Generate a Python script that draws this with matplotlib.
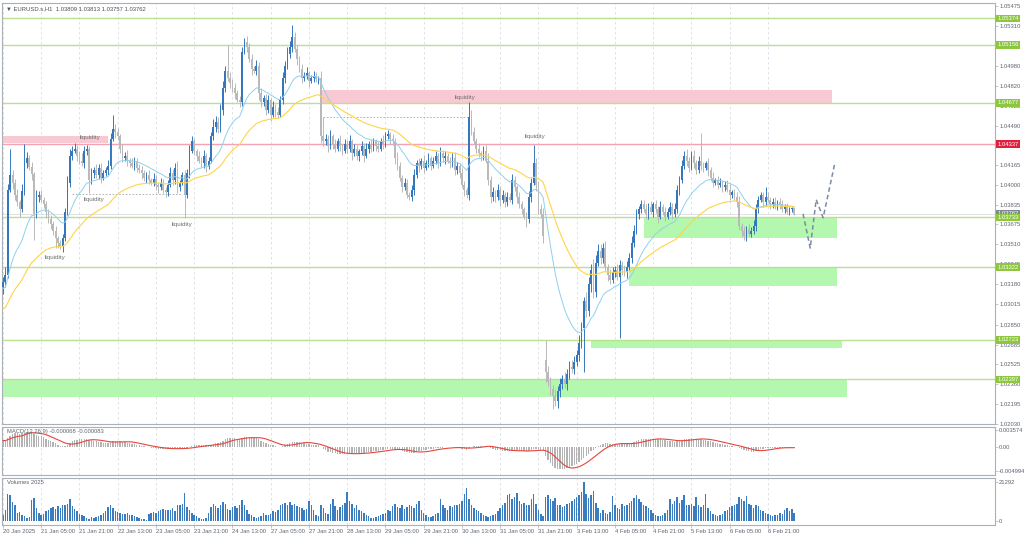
"""
EURUSD H1 chart (MT4 look) -- candles, MAs, MACD and volumes
with marked liquidity levels and supply / demand zones.
Output: out.png (1024x537)
"""

import numpy as np
import pandas as pd
import matplotlib
matplotlib.use("Agg")
import matplotlib.pyplot as plt
import matplotlib.transforms as mtransforms

# ─────────────────────────────────────────────
# Data (prices in pips above 1.0000)
# ─────────────────────────────────────────────
FIRST_OPEN = 316
GAP_OPENS = {227: 256}          # Monday 3 Feb opened with a gap

CLOSE_PIPS = [
    320, 326, 396, 408, 402, 392, 386, 380, 395, 418,
    422, 415, 409, 376, 390, 392, 388, 384, 378, 372,
    368, 362, 356, 352, 350, 356, 378, 402, 424, 428,
    430, 424, 420, 418, 428, 430, 404, 410, 412, 408,
    414, 406, 410, 412, 416, 438, 446, 444, 440, 430,
    422, 424, 420, 418, 416, 420, 414, 412, 410, 406,
    408, 404, 402, 405, 400, 398, 402, 396, 394, 400,
    410, 404, 414, 398, 402, 408, 392, 410, 428, 436,
    428, 424, 420, 418, 424, 416, 420, 440, 448, 452,
    446, 462, 480, 494, 488, 484, 480, 476, 470, 468,
    510, 518, 514, 504, 496, 494, 498, 476, 468, 472,
    462, 470, 458, 464, 460, 458, 470, 488, 498, 508,
    514, 522, 512, 504, 496, 488, 490, 492, 486, 488,
    490, 487, 488, 440, 436, 438, 432, 440, 434, 430,
    436, 432, 428, 434, 430, 436, 426, 430, 424, 428,
    432, 424, 430, 434, 430, 436, 432, 430, 436, 434,
    440, 442, 438, 436, 422, 416, 406, 398, 402, 392,
    390, 396, 408, 418, 416, 420, 414, 418, 422, 416,
    420, 424, 418, 426, 422, 424, 420, 418, 422, 412,
    416, 410, 400, 396, 392, 456, 444, 436, 430, 426,
    424, 428, 420, 404, 390, 394, 390, 396, 388, 392,
    386, 390, 388, 404, 398, 390, 384, 380, 374, 372,
    390, 402, 418, 400, 380, 376, 358,
    246, 238, 232, 226, 222, 230, 236, 240, 236, 244, 250, 248,
    254, 260, 270, 282, 304, 296, 318, 330, 312, 336,
    346, 340, 348, 332, 326, 322, 328, 330, 324, 334,
    330, 328, 332, 340, 352, 362, 376, 380, 384, 380,
    376, 382, 378, 384, 380, 374, 382, 378, 374, 378,
    382, 376, 380, 396, 404, 416, 424, 420, 414, 424,
    418, 412, 420, 416, 414, 418, 412, 406, 402, 404,
    400, 402, 398, 400, 396, 392, 394, 390, 386, 366,
    362, 358, 364, 360, 362, 366, 380, 388, 392, 386,
    390, 388, 384, 386, 382, 386, 384, 380, 382, 378, 380, 381, 376,
]

UP_WICK = [
    4, 6, 5, 22, 4, 3, 5, 2, 6, 16,
    5, 3, 4, 2, 6, 3, 4, 2, 3, 2,
    3, 2, 4, 2, 3, 4, 3, 5, 6, 4,
    5, 3, 4, 6, 4, 3, 2, 4, 3, 5,
    3, 4, 2, 3, 5, 5, 12, 4, 3, 2,
    4, 3, 5, 2, 4, 3, 2, 3, 4, 2,
    3, 4, 2, 5, 3, 2, 4, 3, 2, 4,
    5, 3, 4, 6, 2, 3, 4, 3, 5, 4,
    3, 2, 4, 3, 5, 2, 3, 4, 6, 5,
    4, 5, 6, 4, 21, 5, 3, 4, 2, 3,
    4, 3, 5, 3, 4, 2, 5, 3, 4, 2,
    3, 4, 2, 5, 3, 4, 3, 5, 4, 6,
    5, 10, 4, 3, 2, 4, 3, 5, 2, 3,
    4, 3, 2, 6, 16, 4, 3, 5, 2, 4,
    3, 5, 2, 4, 3, 5, 2, 4, 3, 2,
    4, 3, 5, 2, 4, 3, 2, 4, 3, 5,
    4, 3, 2, 4, 3, 5, 3, 2, 4, 3,
    2, 4, 5, 3, 4, 2, 5, 3, 4, 2,
    3, 4, 2, 5, 3, 4, 2, 3, 4, 5,
    3, 2, 4, 3, 2, 12, 6, 4, 3, 5,
    2, 4, 5, 6, 3, 4, 2, 5, 3, 4,
    2, 4, 3, 5, 3, 2, 4, 3, 2, 4,
    5, 4, 15, 4, 3, 4, 5,
    16, 5, 4, 3, 6, 4, 5, 3, 6, 4, 5, 6,
    5, 4, 6, 5, 4, 8, 6, 5, 9, 6,
    5, 5, 4, 6, 3, 5, 4, 3, 5, 4,
    3, 4, 5, 4, 6, 5, 4, 3, 4, 4,
    4, 3, 5, 2, 4, 3, 5, 2, 4, 3,
    4, 3, 5, 4, 3, 5, 4, 6, 3, 4,
    5, 3, 4, 23, 3, 2, 4, 3, 5, 2,
    3, 4, 2, 3, 4, 5, 2, 3, 4, 5,
    3, 4, 2, 4, 3, 5, 4, 3, 2, 2,
    8, 4, 2, 3, 4, 2, 3, 4, 2, 3, 2, 1, 0,
]

DN_WICK = [
    6, 4, 3, 2, 5, 4, 3, 6, 2, 3,
    4, 3, 5, 21, 3, 4, 2, 3, 5, 3,
    4, 3, 8, 4, 3, 5, 2, 3, 4, 3,
    2, 4, 3, 2, 4, 3, 11, 3, 4, 2,
    3, 4, 2, 3, 4, 3, 2, 5, 3, 4,
    3, 2, 4, 3, 2, 4, 3, 2, 5, 3,
    4, 3, 2, 3, 4, 5, 2, 3, 4, 3,
    2, 4, 3, 5, 3, 2, 19, 3, 4, 2,
    3, 4, 2, 3, 4, 5, 3, 2, 3, 4,
    3, 2, 4, 3, 2, 4, 3, 5, 2, 4,
    3, 2, 4, 3, 5, 2, 3, 6, 4, 3,
    4, 3, 5, 2, 4, 3, 2, 3, 4, 2,
    3, 4, 2, 5, 3, 4, 2, 3, 5, 2,
    3, 2, 4, 5, 4, 3, 5, 2, 4, 3,
    2, 4, 3, 2, 4, 3, 5, 2, 3, 4,
    3, 5, 2, 4, 3, 2, 4, 3, 2, 4,
    3, 2, 4, 3, 5, 4, 3, 4, 2, 3,
    2, 3, 4, 2, 5, 3, 4, 2, 3, 4,
    2, 3, 4, 2, 3, 5, 2, 4, 3, 4,
    3, 4, 2, 5, 3, 4, 3, 2, 4, 3,
    4, 3, 2, 4, 5, 3, 4, 2, 5, 3,
    4, 3, 2, 4, 3, 5, 3, 4, 2, 7,
    3, 4, 2, 5, 4, 3, 6,
    8, 4, 5, 11, 4, 6, 5, 4, 3, 5, 4, 3,
    4, 3, 5, 4, 36, 5, 4, 6, 5, 4,
    3, 5, 4, 3, 5, 4, 3, 4, 2, 50,
    4, 3, 5, 2, 4, 3, 2, 4, 3, 2,
    3, 4, 2, 4, 3, 5, 2, 3, 4, 2,
    3, 4, 2, 3, 4, 2, 3, 4, 3, 2,
    4, 3, 2, 4, 3, 2, 5, 3, 4, 2,
    3, 2, 4, 3, 2, 4, 3, 2, 4, 3,
    5, 3, 4, 2, 3, 2, 4, 3, 2, 4,
    3, 2, 4, 3, 2, 3, 4, 2, 3, 2, 3, 2, 1,
]

VOLUMES = [
    # 20 Jan (13:00-23:00)
    3500, 6000, 15000, 14000, 10500, 9000, 4500, 5000, 3000, 2500, 1500,
    # 21 Jan
    2000, 11500, 12500, 7000, 4500, 3500, 4000, 5500, 6000, 7000, 7500, 6500,
    8000, 7000, 8500, 9000, 9500, 12000, 8000, 6500, 5500, 4000, 3000, 2500,
    # 22 Jan
    1500, 1000, 2000, 1800, 2200, 2500, 3000, 4500, 5500, 7500, 9000, 7000,
    5500, 5000, 4500, 4000, 3800, 4200, 3500, 3000, 2800, 2200, 1800, 1200,
    # 23 Jan
    1000, 500, 4000, 4500, 5000, 4200, 5500, 6000, 6500, 5800, 6200, 6000,
    7000, 5500, 8500, 9000, 9500, 15500, 7500, 6000, 4500, 3500, 2500, 1800,
    # 24 Jan
    1200, 1000, 1500, 4500, 7500, 9500, 8000, 7000, 8500, 10500, 9500, 6500,
    6000, 7500, 8000, 7000, 8500, 11500, 9000, 6000, 4000, 3000, 2200, 1500,
    # 27 Jan
    2000, 2500, 4500, 3500, 3000, 4000, 5500, 5000, 6000, 8500, 9500, 10000,
    9000, 10500, 8500, 9500, 8000, 7500, 7000, 6000, 6500, 11000, 8500, 6000,
    # 28 Jan
    3500, 2500, 9000, 7000, 4500, 4000, 9500, 12000, 8000, 6000, 7500, 8500,
    10000, 16000, 11000, 9500, 7000, 8500, 6000, 5500, 4500, 3500, 2500, 1800,
    # 29 Jan
    1500, 2000, 2500, 3500, 4000, 4500, 6000, 5500, 8000, 9500, 7500, 7000,
    8500, 6500, 7500, 9000, 8000, 7000, 9500, 11000, 6000, 4500, 3000, 2000,
    # 30 Jan
    2000, 2500, 4000, 4500, 12000, 9000, 7000, 6000, 8000, 7500, 8500, 9000,
    9500, 11000, 15000, 18000, 12000, 8500, 7000, 6000, 5500, 4500, 3500, 2500,
    # 31 Jan
    2000, 2500, 3000, 4000, 5500, 7000, 8500, 10000, 14000, 15000, 12000, 13000,
    15500, 11000, 9500, 10000, 8500, 9000, 12000, 15000, 9500, 6000, 4000, 2500,
    # 3 Feb
    13000, 14000, 12000, 11000, 12500, 9000, 8500, 7500, 8000, 9500, 10000, 11000,
    12000, 13000, 14000, 16000, 21292, 15000, 12500, 14000, 16500, 10000, 7000, 4500,
    # 4 Feb
    6000, 4500, 4000, 5000, 13500, 9000, 7000, 6500, 9500, 8000, 8500, 10000,
    11000, 12500, 14000, 12000, 10500, 9000, 8000, 7000, 6000, 4500, 3500, 2500,
    # 5 Feb
    2500, 3000, 4500, 6000, 12000, 9500, 11000, 13000, 10000, 11500, 14000, 9000,
    8500, 9500, 8000, 13000, 9000, 7500, 8500, 15000, 7000, 5500, 4000, 3000,
    # 6 Feb
    2500, 3000, 4000, 5500, 6000, 7500, 8000, 9000, 9500, 13000, 12000, 11000,
    13500, 9500, 8500, 7000, 9000, 8000, 6000, 5500, 4500, 4000, 3000, 2500,
    # 7 Feb (00:00-08:00)
    3000, 3500, 4500, 4000, 6000, 7000, 5500, 6500, 4500,
]

# moving average seeds (level of the averages at the left edge)
BLUE_SEED = 1.0314
YELLOW_SEED = 1.0297
MACD_FAST_SEED = 1.0312
MACD_SLOW_SEED = 1.0298

# horizontal levels
LEVELS      = [1.05374, 1.05156, 1.04677, 1.04337, 1.03733, 1.03322, 1.02723, 1.02397]
LEVEL_KIND  = ["g", "g", "g", "r", "g", "g", "g", "g"]
CURRENT     = 1.03762

# zones: (start bar, end bar, low, high, kind)
ZONE_START = [133, -1, 268, 262, 246, -1]
ZONE_END   = [347, 44, 349, 349, 351, 353]
ZONE_LOW   = [1.04677, 1.04345, 1.03564, 1.03170, 1.02658, 1.02254]
ZONE_HIGH  = [1.04780, 1.04405, 1.03733, 1.03322, 1.02723, 1.02397]
ZONE_KIND  = ["r", "r", "g", "g", "g", "g"]

# dashed liquidity lines: (start bar, end bar, price)
LIQ_LINE_START = [134, 29]
LIQ_LINE_END   = [195, 75]
LIQ_LINE_PRICE = [1.04560, 1.03926]

# "liquidity" labels
LIQ_TEXT_BAR   = [36.4, 38.0, 21.8, 74.9, 193.3, 222.6]
LIQ_TEXT_PRICE = [1.04388, 1.03877, 1.03399, 1.03671, 1.04725, 1.04396]

# projected path
PATH_BAR   = [334.7, 337.7, 340.2, 343.1, 348.1]
PATH_PRICE = [1.03762, 1.03480, 1.03880, 1.03730, 1.04190]

PRICE_TICKS = [1.05475, 1.05310, 1.05145, 1.04980, 1.04820, 1.04655, 1.04490,
               1.04325, 1.04165, 1.04000, 1.03835, 1.03675, 1.03510, 1.03345,
               1.03180, 1.03015, 1.02850, 1.02685, 1.02525, 1.02360, 1.02195,
               1.02030]

DATE_TICKS  = [0, 16, 32, 48, 64, 80, 96, 112, 128, 144, 160, 176, 192, 208,
               224, 240, 256, 272, 288, 304, 320]
DATE_LABELS = ["20 Jan 2025", "21 Jan 05:00", "21 Jan 21:00", "22 Jan 13:00",
               "23 Jan 05:00", "23 Jan 21:00", "24 Jan 13:00", "27 Jan 05:00",
               "27 Jan 21:00", "28 Jan 13:00", "29 Jan 05:00", "29 Jan 21:00",
               "30 Jan 13:00", "31 Jan 05:00", "31 Jan 21:00", "3 Feb 13:00",
               "4 Feb 05:00", "4 Feb 21:00", "5 Feb 13:00", "6 Feb 05:00",
               "6 Feb 21:00"]

MACD_TICKS = [-0.004994, 0.0, 0.003574]
MACD_TICK_LABELS = ["-0.004994", "0.00", "0.003574"]
VOL_TICKS = [0, 21292]

TITLE = "\u25bc EURUSD.s,H1  1.03809 1.03813 1.03757 1.03762"
MACD_TITLE = "MACD(12,26,9) -0.000068 -0.000083"
VOL_TITLE = "Volumes 2025"

# ─────────────────────────────────────────────
# Style
# ─────────────────────────────────────────────
BULL     = "#3577bd"
BEAR     = "#b9b9b9"
BLUE_MA  = "#8fd0ee"
GOLD_MA  = "#ffd447"
GREEN_LN = "#bde08f"
RED_LN   = "#f3a3b4"
GREEN_BX = "#8dc63f"
RED_BX   = "#e0203c"
GREY_BX  = "#808890"
GREEN_Z  = "#b4f7ae"
PINK_Z   = "#f9c9d3"
TXT      = "#5d6670"
SPINE    = "#a9b0b8"
GRID     = "#d9dde8"
FS       = 4.2

W, H = 1024, 537
plt.rcParams["font.family"] = ["Liberation Sans", "DejaVu Sans"]


def px_box(x0, y0, x1, y1):
    """pixel box (top-left origin) -> figure rect"""
    return [x0 / W, 1 - y1 / H, (x1 - x0) / W, (y1 - y0) / H]


def to_price(pips):
    return 1.0 + np.asarray(pips, dtype=float) / 10000.0


def build_ohlc():
    n = len(CLOSE_PIPS)
    for name, lst in [("UP_WICK", UP_WICK), ("DN_WICK", DN_WICK), ("VOLUMES", VOLUMES)]:
        if len(lst) != n:
            raise ValueError(f"{name} has {len(lst)} values, CLOSE_PIPS has {n}")
    open_pips = [FIRST_OPEN] + CLOSE_PIPS[:-1]
    for i, v in GAP_OPENS.items():
        open_pips[i] = v
    o = to_price(open_pips)
    c = to_price(CLOSE_PIPS)
    h = np.maximum(o, c) + np.asarray(UP_WICK) / 10000.0
    l = np.minimum(o, c) - np.asarray(DN_WICK) / 10000.0
    return o, h, l, c


def ema(values, span, seed):
    alpha = 2.0 / (span + 1)
    out = np.empty(len(values))
    cur = seed
    for i, v in enumerate(values):
        cur += alpha * (v - cur)
        out[i] = cur
    return out


def style_axis(ax):
    for s in ax.spines.values():
        s.set_color(SPINE)
        s.set_linewidth(0.8)
    ax.yaxis.tick_right()
    ax.tick_params(axis="y", labelsize=FS, colors=SPINE, labelcolor=TXT,
                   length=2, width=0.5, pad=1)
    ax.set_xticks(DATE_TICKS)
    ax.tick_params(axis="x", length=0, labelbottom=False)
    for t in DATE_TICKS:
        ax.axvline(t, color=GRID, lw=0.6, ls=(0, (3, 3)), zorder=0)
    ax.set_xlim(-0.4, 415)


def draw_main(ax, o, h, l, c):
    x = np.arange(len(c))
    trans = mtransforms.blended_transform_factory(ax.transAxes, ax.transData)

    # zones
    for s, e, lo, hi, k in zip(ZONE_START, ZONE_END, ZONE_LOW, ZONE_HIGH, ZONE_KIND):
        ax.fill_between([s, e], lo, hi, color=PINK_Z if k == "r" else GREEN_Z,
                        lw=0, zorder=1)

    # levels
    for lvl, k in zip(LEVELS, LEVEL_KIND):
        ax.axhline(lvl, color=RED_LN if k == "r" else GREEN_LN, lw=1.0, zorder=2)
    ax.axhline(CURRENT, color="#dcdcdc", lw=0.6, zorder=2)

    # liquidity lines + labels
    for s, e, p in zip(LIQ_LINE_START, LIQ_LINE_END, LIQ_LINE_PRICE):
        ax.plot([s, e], [p, p], color="#a8a8a8", lw=0.6, ls=(0, (2, 2)), zorder=2)
    for b, p in zip(LIQ_TEXT_BAR, LIQ_TEXT_PRICE):
        ax.text(b, p, "liquidity", fontsize=FS + 0.3, color="#6e6e6e",
                ha="center", va="center", zorder=6)

    # candles
    bull = c >= o
    cols = np.where(bull, BULL, BEAR)
    ax.vlines(x, l, h, colors=cols, lw=0.7, zorder=3)
    body = np.maximum(np.abs(c - o), 0.00003)
    ax.bar(x, body, bottom=np.minimum(o, c), width=0.72, color=cols, lw=0, zorder=3)

    # moving averages
    ax.plot(x, ema(c, 20, BLUE_SEED), color=BLUE_MA, lw=0.7, zorder=4)
    ax.plot(x, ema(c, 50, YELLOW_SEED), color=GOLD_MA, lw=0.8, zorder=4)

    # projection
    ax.plot(PATH_BAR, PATH_PRICE, color="#7d8aa3", lw=1.1, ls=(0, (3, 2)), zorder=5)

    ax.set_ylim(1.02032, 1.05500)
    ax.set_yticks(PRICE_TICKS)
    ax.set_yticklabels([f"{t:.5f}" for t in PRICE_TICKS])

    # price boxes on the right scale
    box = dict(boxstyle="square,pad=0.22", ec="none")
    ax.text(1.0025, CURRENT + 0.00004, f"{CURRENT:.5f}", transform=trans, fontsize=FS,
            color="white", ha="left", va="center", clip_on=False, zorder=9,
            bbox=dict(box, fc=GREY_BX))
    for lvl, k in zip(LEVELS, LEVEL_KIND):
        ax.text(1.0025, lvl, f"{lvl:.5f}", transform=trans, fontsize=FS,
                color="white", ha="left", va="center", clip_on=False, zorder=10,
                bbox=dict(box, fc=RED_BX if k == "r" else GREEN_BX))


def draw_macd(ax, c):
    x = np.arange(len(c))
    main = ema(c, 12, MACD_FAST_SEED) - ema(c, 26, MACD_SLOW_SEED)
    signal = pd.Series(main).rolling(9, min_periods=1).mean().values
    ax.bar(x, main, width=0.55, color="#b3b3b3", lw=0, zorder=2)
    ax.plot(x, signal, color="#e5463d", lw=0.8, zorder=3)
    ax.set_ylim(-0.00583, 0.00420)
    ax.set_yticks(MACD_TICKS)
    ax.set_yticklabels(MACD_TICK_LABELS)


def draw_volume(ax):
    x = np.arange(len(VOLUMES))
    ax.bar(x, VOLUMES, width=0.62, color="#3b7cc0", lw=0, zorder=2)
    ax.set_ylim(-2200, 23480)
    ax.set_yticks(VOL_TICKS)
    ax.set_yticklabels([str(v) for v in VOL_TICKS])
    ax.set_xticks(DATE_TICKS)
    ax.set_xticklabels(DATE_LABELS)
    ax.tick_params(axis="x", labelbottom=True, labelsize=FS, labelcolor=TXT,
                   length=2, width=0.5, colors=SPINE, pad=1)
    for lab in ax.get_xticklabels():
        lab.set_horizontalalignment("left")


def main():
    o, h, l, c = build_ohlc()

    fig = plt.figure(figsize=(W / 100, H / 100), dpi=100)
    fig.patch.set_facecolor("white")

    ax1 = fig.add_axes(px_box(2, 3, 995, 424))
    ax2 = fig.add_axes(px_box(2, 427, 995, 475))
    ax3 = fig.add_axes(px_box(2, 478, 995, 525))
    for ax in (ax1, ax2, ax3):
        style_axis(ax)

    draw_main(ax1, o, h, l, c)
    draw_macd(ax2, c)
    draw_volume(ax3)

    fig.text(6 / W, 1 - 9 / H, TITLE, fontsize=FS, color="#4a4f55",
             va="center", ha="left")
    fig.text(7 / W, 1 - 432 / H, MACD_TITLE, fontsize=FS, color=TXT,
             va="center", ha="left", zorder=1)
    fig.text(7 / W, 1 - 483 / H, VOL_TITLE, fontsize=FS, color=TXT,
             va="center", ha="left")

    fig.savefig("out.png", dpi=100, facecolor="white")
    plt.close(fig)


if __name__ == "__main__":
    main()
